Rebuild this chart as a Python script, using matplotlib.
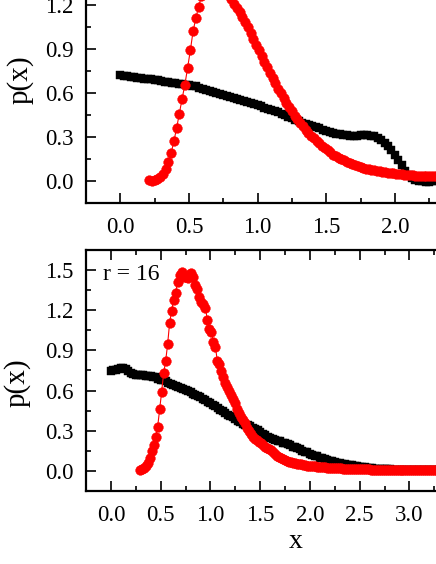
import numpy as np
import matplotlib
matplotlib.use("Agg")
import matplotlib.pyplot as plt
from matplotlib.ticker import MultipleLocator

plt.rcParams['font.family'] = ['Liberation Serif', 'DejaVu Serif']

# ---------------- data ----------------
# top panel
top_red_x0, top_red_dx = 0.21, 0.02
top_red_y = [
    0.005, 0.003, 0.005, 0.012, 0.025, 0.045, 0.080, 0.130, 0.190, 0.270,
    0.360, 0.460, 0.560, 0.655, 0.770, 0.890, 1.020, 1.110, 1.185, 1.260,
    1.320, 1.370, 1.410, 1.430, 1.440, 1.430, 1.400, 1.360, 1.310, 1.270,
    1.240, 1.210, 1.180, 1.150, 1.120, 1.085, 1.050, 1.010, 0.970, 0.930,
    0.890, 0.850, 0.810, 0.775, 0.737, 0.700, 0.665, 0.630, 0.597, 0.565,
    0.535, 0.505, 0.475, 0.445, 0.420, 0.395, 0.372, 0.350, 0.330, 0.310,
    0.292, 0.275, 0.257, 0.240, 0.225, 0.210, 0.195, 0.180, 0.170, 0.160,
    0.150, 0.140, 0.130, 0.120, 0.113, 0.107, 0.101, 0.095, 0.090, 0.085,
    0.081, 0.077, 0.073, 0.070, 0.066, 0.063, 0.060, 0.057, 0.055, 0.052,
    0.050, 0.048, 0.046, 0.044, 0.042, 0.040, 0.038, 0.037, 0.036, 0.035,
    0.034, 0.034, 0.033, 0.033, 0.033, 0.033,
]
top_blk_x0, top_blk_dx = 0.0, 0.025
top_blk_y = [
    0.722, 0.718, 0.716, 0.712, 0.708, 0.705, 0.700, 0.698, 0.695, 0.693,
    0.690, 0.686, 0.682, 0.678, 0.675, 0.670, 0.666, 0.662, 0.658, 0.655,
    0.653, 0.650, 0.645, 0.636, 0.627, 0.620, 0.612, 0.605, 0.600, 0.595,
    0.588, 0.580, 0.572, 0.565, 0.558, 0.550, 0.543, 0.537, 0.532, 0.528,
    0.518, 0.508, 0.500, 0.492, 0.486, 0.478, 0.470, 0.460, 0.450, 0.438,
    0.428, 0.418, 0.410, 0.398, 0.390, 0.382, 0.374, 0.366, 0.358, 0.350,
    0.340, 0.333, 0.328, 0.322, 0.318, 0.316, 0.312, 0.308, 0.307, 0.310,
    0.314, 0.316, 0.314, 0.310, 0.305, 0.296, 0.282, 0.262, 0.238, 0.210,
    0.178, 0.145, 0.108, 0.070, 0.040, 0.018, 0.006, 0.002, -0.002, -0.004,
    -0.004, -0.003, -0.003,
]

# bottom panel (r = 16)
bot_red_x0, bot_red_dx = 0.29, 0.02
bot_red_y = [
    0.010, 0.012, 0.022, 0.038, 0.060, 0.095, 0.148, 0.195, 0.255, 0.330,
    0.460, 0.590, 0.730, 0.820, 0.945, 1.105, 1.195, 1.275, 1.330, 1.410,
    1.460, 1.485, 1.452, 1.448, 1.438, 1.470, 1.480, 1.445, 1.390, 1.362,
    1.300, 1.260, 1.245, 1.218, 1.125, 1.060, 1.035, 0.965, 0.925, 0.822,
    0.800, 0.745, 0.700, 0.660, 0.625, 0.598, 0.568, 0.538, 0.505, 0.465,
    0.430, 0.402, 0.380, 0.355, 0.322, 0.296, 0.275, 0.255, 0.240, 0.230,
    0.215, 0.205, 0.195, 0.180, 0.170, 0.162, 0.155, 0.140, 0.126, 0.115,
    0.105, 0.096, 0.086, 0.080, 0.075, 0.070, 0.066, 0.062, 0.058, 0.055,
    0.052, 0.048, 0.045, 0.043, 0.040, 0.038, 0.036, 0.035, 0.033, 0.031,
    0.030, 0.029, 0.027, 0.026, 0.025, 0.024, 0.023, 0.022, 0.022, 0.021,
    0.020, 0.019, 0.018, 0.018, 0.017, 0.016, 0.016, 0.015, 0.014, 0.014,
    0.013, 0.013, 0.012, 0.012, 0.011, 0.011, 0.010, 0.010, 0.010, 0.009,
    0.009, 0.009, 0.008, 0.008, 0.008, 0.008, 0.007, 0.007, 0.007, 0.007,
    0.007, 0.006, 0.006, 0.006, 0.006, 0.006, 0.006, 0.006, 0.005, 0.005,
    0.005, 0.005, 0.005, 0.005, 0.005, 0.005, 0.005, 0.005, 0.005, 0.005,
    0.005, 0.005,
]
bot_blk_x0, bot_blk_dx = 0.0, 0.025
bot_blk_y = [
    0.745, 0.750, 0.752, 0.758, 0.765, 0.770, 0.762, 0.745, 0.730, 0.722,
    0.720, 0.718, 0.716, 0.713, 0.711, 0.710, 0.708, 0.703, 0.698, 0.690,
    0.682, 0.676, 0.668, 0.660, 0.652, 0.645, 0.636, 0.628, 0.620, 0.612,
    0.603, 0.595, 0.586, 0.578, 0.570, 0.560, 0.550, 0.540, 0.530, 0.518,
    0.505, 0.495, 0.485, 0.472, 0.458, 0.445, 0.432, 0.420, 0.410, 0.400,
    0.388, 0.375, 0.362, 0.352, 0.345, 0.340, 0.333, 0.322, 0.312, 0.302,
    0.290, 0.278, 0.266, 0.255, 0.246, 0.240, 0.234, 0.226, 0.220, 0.212,
    0.205, 0.198, 0.190, 0.182, 0.176, 0.168, 0.160, 0.152, 0.145, 0.138,
    0.130, 0.122, 0.115, 0.108, 0.100, 0.094, 0.088, 0.082, 0.077, 0.072,
    0.067, 0.062, 0.058, 0.054, 0.050, 0.047, 0.044, 0.041, 0.038, 0.035,
    0.032, 0.029, 0.026, 0.024, 0.022, 0.020, 0.018, 0.016, 0.015, 0.014,
    0.013, 0.012, 0.011, 0.010, 0.009, 0.009, 0.008, 0.008, 0.007, 0.007,
    0.007, 0.006, 0.006, 0.006, 0.006, 0.005, 0.005, 0.005, 0.005, 0.005,
    0.005, 0.005, 0.005,
]

x_ticks_top = [0.0, 0.5, 1.0, 1.5, 2.0]
x_ticks_bot = [0.0, 0.5, 1.0, 1.5, 2.0, 2.5, 3.0]
y_ticks_top = [0.0, 0.3, 0.6, 0.9, 1.2]
y_ticks_bot = [0.0, 0.3, 0.6, 0.9, 1.2, 1.5]
panel_text = "r = 16"


def grid(x0, dx, ys):
    return np.round(x0 + dx * np.arange(len(ys)), 4)


# ---------------- figure ----------------
W, H = 436, 564
fig = plt.figure(figsize=(W / 100, H / 100), dpi=100)


def px_axes(left, top, width, height):
    return fig.add_axes([left / W, 1 - (top + height) / H, width / W, height / H])


ax1 = px_axes(86, 203 - 242, 420, 242)
ax2 = px_axes(86, 250, 420, 241)

red = '#ff0000'
for ax, bx, by, rx, ry, xt, yt, xlim, ylim in [
    (ax1, grid(top_blk_x0, top_blk_dx, top_blk_y), top_blk_y,
     grid(top_red_x0, top_red_dx, top_red_y), top_red_y, x_ticks_top,
     y_ticks_top, (-0.25, 2.81), (-0.15, 1.5)),
    (ax2, grid(bot_blk_x0, bot_blk_dx, bot_blk_y), bot_blk_y,
     grid(bot_red_x0, bot_red_dx, bot_red_y), bot_red_y, x_ticks_bot,
     y_ticks_bot, (-0.25, 3.97), (-0.15, 1.65)),
]:
    ax.plot(bx, by, linestyle='none', marker='s', ms=6.2, mfc='black',
            mec='black', mew=0.3, zorder=2)
    ax.plot(rx, ry, color=red, lw=0.8, marker='o', ms=7.0, mfc=red,
            mec=red, mew=0.3, zorder=3)
    ax.set_xlim(*xlim)
    ax.set_ylim(*ylim)
    ax.set_xticks(xt)
    ax.set_yticks(yt)
    ax.set_xticklabels([f"{v:.1f}" for v in xt])
    ax.set_yticklabels([f"{v:.1f}" for v in yt])
    ax.xaxis.set_minor_locator(MultipleLocator(0.25))
    ax.yaxis.set_minor_locator(MultipleLocator(0.15))
    ax.tick_params(which='both', direction='in', top=True, right=True,
                   width=1.2, labelsize=16.5)
    ax.tick_params(which='major', length=7)
    ax.tick_params(which='minor', length=3.8)
    ax.tick_params(axis='x', which='major', pad=10)
    ax.tick_params(axis='y', which='major', pad=9)
    for s in ax.spines.values():
        s.set_linewidth(1.6)

ax2.text(0.04, 0.90, panel_text, transform=ax2.transAxes, fontsize=17,
         ha='left', va='center')

fig.text(20 / W, 1 - 80 / H, "p(x)", rotation=90, ha='center', va='center',
         fontsize=21)
fig.text(17 / W, 1 - 383 / H, "p(x)", rotation=90, ha='center', va='center',
         fontsize=21)
fig.text(296 / W, 1 - 542 / H, "x", ha='center', va='center', fontsize=20)

fig.savefig("out.png", dpi=100)
